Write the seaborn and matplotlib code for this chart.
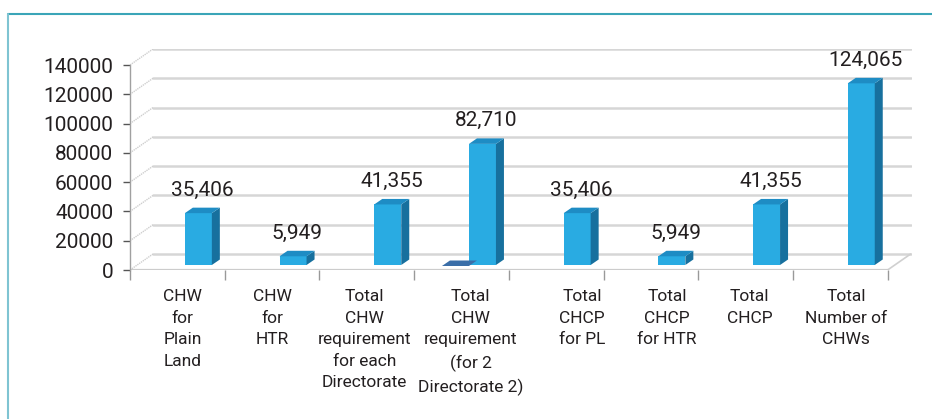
import numpy as np
import pandas as pd
import matplotlib
matplotlib.use('Agg')
import matplotlib.pyplot as plt
from matplotlib.patches import Polygon
from matplotlib.lines import Line2D
import seaborn as sns

# Chart data
categories = ['CHW\nfor\nPlain\nLand', 'CHW\nfor\nHTR',
              'Total\nCHW\nrequirement\nfor each\nDirectorate',
              'Total\nCHW\nrequirement\n(for 2\nDirectorate 2)',
              'Total\nCHCP\nfor PL', 'Total\nCHCP\nfor HTR',
              'Total\nCHCP', 'Total\nNumber of\nCHWs']
values = [35406, 5949, 41355, 82710, 35406, 5949, 41355, 124065]
value_labels = ['35,406', '5,949', '41,355', '82,710', '35,406', '5,949', '41,355', '124,065']
# second series, only visible as a flat sliver next to the 4th bar
second_values = [None, None, None, 0, None, None, None, None]
y_ticks = [0, 20000, 40000, 60000, 80000, 100000, 120000, 140000]

# layout (pixels)
label_shift = [5, 0, -2, 9, 26, 16, 4, 6]
px_cat = 94.7
units_per_px = 140000 / 205
depth_x, depth_y = 23, 16      # back wall offset
bar_dx, bar_dy = 8, 5.5        # bar depth
bar_shift_x, bar_shift_y = 21, 5

front_col = '#29abe2'
side_col = '#17709e'
top_col = '#1e8cc4'
grid_col = '#d6d6d6'
text_col = '#231f20'

sns.set_theme(style='white')
plt.rcParams['font.family'] = ['Roboto', 'DejaVu Sans']

fig = plt.figure(figsize=(9.32, 4.19), dpi=100)
ax = fig.add_axes([130 / 932, (419 - 270) / 419, 782 / 932, 221 / 419])

df = pd.DataFrame({'cat': categories, 'val': values})
sns.barplot(data=df, x='cat', y='val', width=27 / px_cat, color=front_col,
            saturation=1, ax=ax, zorder=3)

px_x = 1 / px_cat
px_y = units_per_px
ax.set_xlim(-0.5, -0.5 + 782 / px_cat)
ax.set_ylim(0, 221 * units_per_px)

# back wall gridlines + side wall diagonals
for v in y_ticks:
    ax.plot([-0.5 + depth_x * px_x, 7.5 + depth_x * px_x],
            [v + depth_y * px_y] * 2, color=grid_col, lw=1.8, zorder=1)
    ax.plot([-0.5, -0.5 + depth_x * px_x], [v, v + depth_y * px_y],
            color='#cfcfcf', lw=1.0, ls=(0, (1, 0.6)), zorder=1)
# floor edges
ax.plot([-0.5, 7.5], [0, 0], color='#cccccc', lw=1.6, zorder=2)
ax.plot([7.5, 7.5 + depth_x * px_x], [0, depth_y * px_y], color='#d0d0d0', lw=1.2, zorder=1)

# move front faces and add side / top faces
ddx, ddy = bar_dx * px_x, bar_dy * px_y
for i, p in enumerate(ax.patches):
    p.set_x(p.get_x() + bar_shift_x * px_x)
    p.set_y(bar_shift_y * px_y)
    p.set_edgecolor('none')
    x0 = p.get_x()
    x1 = x0 + p.get_width()
    y0 = p.get_y()
    y1 = y0 + p.get_height()
    side = Polygon([(x1, y0), (x1 + ddx, y0 + ddy), (x1 + ddx, y1 + ddy), (x1, y1)],
                   closed=True, facecolor=side_col, edgecolor='none', zorder=3)
    top = Polygon([(x0, y1), (x1, y1), (x1 + ddx, y1 + ddy), (x0 + ddx, y1 + ddy)],
                  closed=True, facecolor=top_col, edgecolor='none', zorder=3)
    ax.add_patch(side)
    ax.add_patch(top)
    ax.text((x0 + x1) / 2 + ddx / 2, y1 + ddy + 12 * px_y, value_labels[i],
            ha='center', va='baseline', fontsize=15, color=text_col, zorder=4)

# flat second-series sliver
w = 27 * px_x
for i, v in enumerate(second_values):
    if v is None:
        continue
    x1 = i + bar_shift_x * px_x - 0.5 * w
    x0 = x1 - w
    y0 = v + bar_shift_y * px_y - 1 * px_y
    ax.add_patch(Polygon([(x0, y0), (x1, y0), (x1 + ddx, y0 + ddy), (x0 + ddx, y0 + ddy)],
                         closed=True, facecolor='#3a6ea8', edgecolor='none', zorder=3))

# axes styling
for s in ['top', 'right', 'bottom']:
    ax.spines[s].set_visible(False)
ax.spines['left'].set_bounds(0, 140000)
ax.spines['left'].set_color('#a0a0a0')
ax.spines['left'].set_linewidth(1.0)
ax.set_yticks(y_ticks)
ax.set_yticklabels([str(t) for t in y_ticks], fontsize=15, color=text_col)
ax.tick_params(axis='y', left=True, length=5, width=1, color='#555555', pad=7)
ax.set_xticks(np.arange(-0.5, 8.0, 1.0))
ax.set_xticklabels([])
ax.tick_params(axis='x', bottom=True, length=7, width=1, color='#999999')
ax.set_xlabel('')
ax.set_ylabel('')
ax.grid(False)

for i, lab in enumerate(categories):
    ax.text(i + label_shift[i] * px_x, -19 * px_y, lab, ha='center', va='top',
            fontsize=12.5, color=text_col, linespacing=1.55, multialignment='center',
            clip_on=False)

# frame lines
fig.add_artist(Line2D([8 / 932, 1], [1 - 14 / 419, 1 - 14 / 419], transform=fig.transFigure,
                      color='#3aa5b8', lw=1.5))
fig.add_artist(Line2D([8 / 932, 8 / 932], [0, 1 - 14 / 419], transform=fig.transFigure,
                      color='#7fc4d2', lw=1.5))

fig.savefig('out.png', dpi=100, facecolor='white')
